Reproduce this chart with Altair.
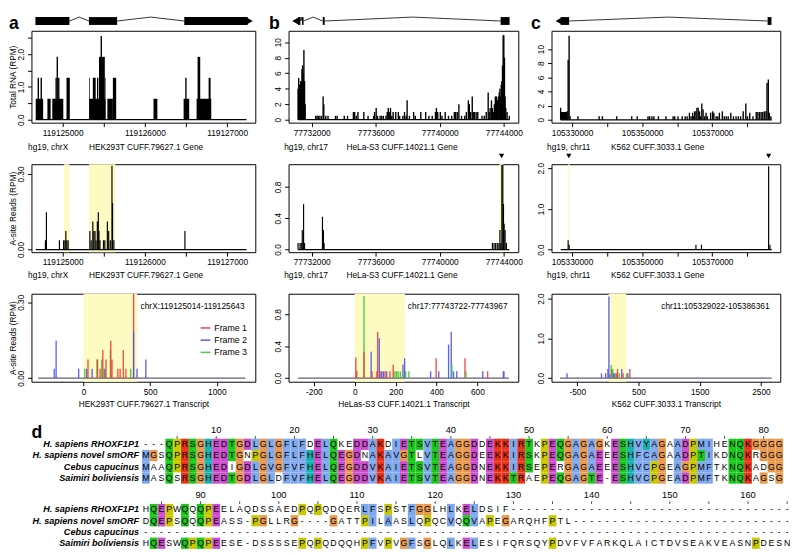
import altair as alt
import pandas as pd

FONT = "Liberation Sans"
NB = "\u00a0"

# ---------------- panel a : HEK293T CUFF.79627.1 (chrX) ----------------
A_XDOM = [119124621, 119127343]
A_XTICKS = [119125000, 119125500, 119126000, 119126500, 119127000]
A_XLABS = [119125000, 119126000, 119127000]
A_EXON_S = [119124669, 119125320, 119126479]
A_EXON_E = [119125083, 119125663, 119127250]
A_ARROW = [119127272]
A_RANGE = [119124673, 119127236]
A_TOT_YDOM = [-0.09, 2.716]
A_TOT_BLK_S = [119124673, 119124815, 119124874, 119125047, 119125323, 119125544, 119125611,
               119126105, 119126471, 119126629, 119125323, 119125367, 119125418, 119125442,
               119125513, 119126641, 119126775]
A_TOT_BLK_E = [119124763, 119124854, 119125008, 119125087, 119125521, 119125611, 119125651,
               119126152, 119126539, 119126807, 119125331, 119125402, 119125434, 119125513,
               119125521, 119126673, 119126799]
A_TOT_BLK_V = [0.64, 0.64, 0.64, 1.28, 0.64, 0.64, 1.28, 0.64, 0.64, 0.64,
               1.28, 1.28, 1.28, 1.92, 1.28, 1.92, 1.28]
A_TOT_SPK_P = [119124704, 119124740, 119124921, 119124935, 119124953, 119125470, 119126499]
A_TOT_SPK_V = [1.28, 1.28, 1.28, 1.92, 1.28, 2.56, 1.28]
A_ORF_S = [119125014, 119125320]
A_ORF_E = [119125083, 119125643]
A_AS_YDOM = [-0.0105, 0.339]
A_AS_P = [119124791, 119124803, 119124961, 119125012, 119125028, 119125039, 119125051,
          119125067, 119125331, 119125347, 119125367, 119125379, 119125394, 119125406,
          119125422, 119125434, 119125442, 119125454, 119125497, 119125513, 119125544,
          119125560, 119125580, 119125600, 119125607, 119125623, 119126487]
A_AS_V = [0.037, 0.148, 0.037, 0.037, 0.037, 0.074, 0.037, 0.037, 0.074, 0.037, 0.111,
          0.074, 0.074, 0.037, 0.111, 0.148, 0.074, 0.037, 0.037, 0.037, 0.111, 0.074,
          0.037, 0.333, 0.185, 0.037, 0.074]
A_TX_XDOM = [-390, 1289]
A_TX_XTICKS = [0, 500, 1000]
A_TX_YDOM = [-0.0143, 0.3336]
A_TX_ORF = [0, 402]
A_TX_RANGE = [-340, 1214]
A_TX_P = [-219, -205, -36, 10, 24, 34, 65, 101, 106, 125, 137, 145, 154, 161, 169, 202,
          205, 214, 258, 275, 299, 318, 354, 376, 376, 402, 468]
A_TX_V = [0.037, 0.148, 0.037, 0.037, 0.037, 0.074, 0.037, 0.074, 0.074, 0.037, 0.074,
          0.111, 0.037, 0.037, 0.074, 0.111, 0.148, 0.074, 0.037, 0.037, 0.111, 0.037,
          0.037, 0.333, 0.185, 0.037, 0.074]
A_TX_F = [2, 2, 2, 3, 2, 1, 2, 3, 1, 1, 3, 1, 3, 2, 1, 3, 1, 1, 1, 1, 1, 1, 3, 1, 2, 2, 2]
A_LOCUS = "chrX:119125014-119125643"

# ---------------- panel b : HeLa-S3 CUFF.14021.1 (chr17) ----------------
B_XDOM = [77730553, 77744904]
B_XTICKS = [77732000, 77734000, 77736000, 77738000, 77740000, 77742000, 77744000]
B_XLABS = [77732000, 77736000, 77740000, 77744000]
B_EXON_S = [77731146, 77731390, 77732690, 77743800]
B_EXON_E = [77731290, 77731490, 77732810, 77744360]
B_ARROW = [77730990]
B_RANGE = [77731146, 77744346]
B_TOT_YDOM = [-0.38, 11.48]
B_TOT_P = [77731146, 77731186, 77731227, 77731268, 77731308, 77731349, 77731390, 77731430,
           77731471, 77731512, 77731552, 77731593, 77732244, 77732325, 77732407, 77732509,
           77732610, 77732712, 77732753, 77732875, 77733017, 77733485, 77733587, 77734034,
           77734237, 77734604, 77734685, 77734787, 77734888, 77735254, 77735519, 77735865,
           77735926, 77736027, 77736109, 77736271, 77736373, 77736475, 77736638, 77736719,
           77736780, 77736841, 77736922, 77737004, 77737085, 77737248, 77737410, 77737492,
           77737695, 77737797, 77737899, 77737960, 77738102, 77738366, 77738468, 77738814,
           77739119, 77739322, 77739526, 77739729, 77739790, 77739872, 77740034, 77740136,
           77740339, 77740543, 77740746, 77740909, 77740990, 77741092, 77741194, 77741356,
           77741560, 77741661, 77741784, 77741845, 77741926, 77742028, 77742089, 77742170,
           77742272, 77742373, 77742638, 77742780, 77742902, 77743024, 77743085, 77743146,
           77743227, 77743288, 77743349, 77743410, 77743471, 77743532, 77743593, 77743654,
           77743715, 77743756, 77743797, 77743837, 77743878, 77743919, 77743959, 77744000,
           77744041, 77744081, 77744122, 77744203, 77744346]
B_TOT_V = [4.0, 5.4, 4.5, 3.5, 5.0, 4.8, 6.5, 7.0, 6.0, 9.0, 5.0, 2.0, 0.5, 0.5, 0.5, 0.5,
           0.5, 3.0, 2.0, 0.5, 0.5, 0.5, 0.5, 0.5, 0.5, 1.0, 1.0, 0.5, 1.0, 1.0, 0.5, 0.5,
           1.0, 1.5, 0.5, 0.5, 0.5, 0.5, 0.5, 1.0, 1.5, 1.0, 1.5, 0.5, 1.0, 1.0, 1.0, 0.5,
           0.5, 1.0, 0.5, 2.5, 0.5, 1.0, 0.5, 1.0, 1.0, 0.5, 0.5, 1.0, 1.5, 1.0, 1.0, 0.5,
           1.0, 0.5, 0.5, 1.0, 1.0, 1.0, 2.0, 0.5, 0.5, 1.0, 2.5, 2.0, 1.0, 3.0, 1.0, 1.0,
           1.0, 1.0, 0.5, 0.5, 1.0, 3.5, 1.0, 1.5, 2.5, 1.5, 1.0, 2.0, 3.0, 3.0, 2.5, 3.0,
           3.5, 4.0, 3.0, 4.5, 5.0, 7.0, 10.9, 10.9, 8.0, 3.0, 1.5, 1.0, 0.5]
B_ORF_S = [77743722]
B_ORF_E = [77743967]
B_MARK = [77743860]
B_AS_YDOM = [-0.034, 1.091]
B_AS_P = [77731146, 77731268, 77731349, 77731410, 77731491, 77731552, 77732671, 77732732,
          77732773, 77743288, 77743390, 77743491, 77743593, 77743695, 77743756, 77743817,
          77743878, 77743939, 77743980, 77744020, 77744081, 77744163]
B_AS_V = [0.085, 0.085, 0.085, 0.25, 0.58, 0.085, 0.42, 0.25, 0.085, 0.085, 0.085, 0.085,
          0.085, 0.085, 0.25, 0.085, 1.08, 1.08, 0.58, 0.33, 0.25, 0.085]
B_TX_XDOM = [-324, 800]
B_TX_XTICKS = [-200, 0, 200, 400, 600]
B_TX_YDOM = [-0.0453, 1.058]
B_TX_ORF = [0, 245]
B_TX_RANGE = [-277, 754]
B_TX_P = [5, 10, 45, 45, 80, 84, 108, 112, 120, 124, 132, 140, 148, 156, 172, 188, 196, 204,
          212, 223, 236, 244, 249, 265, 371, 398, 411, 459, 472, 475, 483, 499, 539, 544,
          626, 650, 727, 730]
B_TX_V = [0.257, 0.085, 1.03, 0.33, 0.33, 0.085, 0.085, 0.58, 0.5, 0.085, 0.085, 0.085,
          0.085, 0.085, 0.085, 0.17, 0.085, 0.085, 0.085, 0.085, 0.17, 0.25, 0.085, 0.085,
          0.085, 0.25, 0.085, 0.42, 0.58, 0.17, 0.085, 0.085, 0.25, 0.085, 0.085, 0.085,
          0.085, 0.085]
B_TX_F = [1, 1, 3, 1, 2, 1, 1, 1, 2, 1, 2, 2, 1, 2, 1, 1, 3, 3, 3, 3, 2, 2, 3, 3, 2, 1, 2,
          2, 2, 3, 2, 2, 1, 3, 2, 1, 2, 2]
B_LOCUS = "chr17:77743722-77743967"

# ---------------- panel c : K562 CUFF.3033.1 (chr11) ----------------
C_XDOM = [105324142, 105389414]
C_XTICKS = [105330000, 105340000, 105350000, 105360000, 105370000, 105380000]
C_XLABS = [105330000, 105350000, 105370000]
C_EXON_S = [105326736, 105385800]
C_EXON_E = [105329163, 105386900]
C_ARROW = [105326250]
C_RANGE = [105326744, 105387000]
C_TOT_YDOM = [-0.41, 12.59]
C_TOT_P = [105326744, 105327023, 105327302, 105327581, 105327861, 105328140, 105328419,
           105328605, 105328884, 105329163, 105329442, 105331674, 105337721, 105338651,
           105342744, 105347023, 105348605, 105351674, 105352140, 105352791, 105353349,
           105354651, 105356791, 105358837, 105359302, 105360233, 105361442, 105362279,
           105362837, 105363488, 105363953, 105364419, 105364698, 105364977, 105365349,
           105365628, 105366000, 105366372, 105366651, 105367023, 105367395, 105367860,
           105368233, 105368605, 105369535, 105370093, 105370465, 105371116, 105371581,
           105372047, 105372884, 105373442, 105374000, 105374558, 105375302, 105376047,
           105376791, 105377442, 105378093, 105378837, 105379581, 105380047, 105380698,
           105381628, 105382558, 105383023, 105383488, 105383953, 105384419, 105384884,
           105385349, 105385628, 105386000, 105386279, 105386744]
C_TOT_V = [1.7, 1.1, 1.1, 1.1, 1.1, 1.1, 1.1, 1.2, 8.5, 11.9, 0.5, 0.5, 0.5, 0.5, 0.5, 0.5,
           0.5, 0.5, 0.5, 0.5, 0.5, 0.5, 0.5, 0.5, 0.5, 0.5, 0.5, 0.5, 0.5, 1.0, 0.5, 1.0,
           0.5, 1.2, 1.2, 1.7, 1.7, 1.2, 0.5, 2.3, 1.5, 0.5, 1.0, 0.5, 1.0, 1.2, 1.0, 0.5,
           0.5, 1.0, 1.2, 0.5, 0.5, 0.5, 1.0, 0.5, 0.5, 0.5, 0.5, 1.2, 2.3, 0.5, 1.0, 0.5,
           1.1, 1.1, 1.1, 1.1, 1.1, 1.2, 1.2, 5.2, 5.7, 1.0, 0.5]
C_ORF_S = [105328880]
C_ORF_E = [105329300]
C_MARK = [105329070, 105386100]
C_AS_YDOM = [-0.065, 2.10]
C_AS_P = [105328884, 105329163, 105365349, 105366930, 105386093, 105386465]
C_AS_V = [0.23, 0.12, 0.12, 0.12, 2.05, 0.12]
C_TX_XDOM = [-921, 2815]
C_TX_XTICKS = [-500, 0, 500, 1000, 1500, 2000, 2500]
C_TX_YDOM = [-0.091, 2.122]
C_TX_ORF = [15, 300]
C_TX_RANGE = [-782, 2676]
C_TX_P = [-668, -105, -37, 0, 16, 37, 53, 68, 79, 95, 116, 142, 158, 184, 226, 247, 305,
          326, 358]
C_TX_V = [0.12, 0.12, 0.12, 0.23, 2.05, 0.1, 0.33, 0.23, 0.23, 0.12, 0.12, 0.12, 0.23,
          0.12, 0.23, 0.12, 0.12, 0.12, 0.23]
C_TX_F = [2, 2, 2, 2, 2, 2, 3, 1, 3, 2, 2, 1, 1, 3, 2, 1, 3, 2, 1]
C_LOCUS = "chr11:105329022-105386361"

# ---------------- panel d : alignment ----------------
ALN_NAMES = ["H. sapiens RHOXF1P1", "H. sapiens novel smORF", "Cebus capucinus",
             "Saimiri boliviensis"]
ALN_BLOCK1 = [
    "---QPRSGHEDTGDLGLGFLFDELQKEDDAKDIETSVTEAGGDDEKKIRTKPEQGAGAGKESHVYAGAADPMIHENQKGGGG",
    "MGSQPRSGHEDTGNPGLGFLFHELQEGDNAKAVGTLVTEAGGDEEKKIRSKPEQGAGAEEESHFCAGAADPTIKDNQKRGGG",
    "MAAQPRSGHEDIGDLGVGFVFHELQEGDDVKAIETSVTEAGGDNEKKIRSEPERGAGAEEESHVCPGEAGPMFTKNQKADGG",
    "MASQSRSGHEDTGDLGLDFVFHELQEGDDVKAIETSVTEAGGDNEKKTRAEPEQGAGTE-ESHVCPGEADPMFTKNQKAGSG",
]
ALN_BLOCK2 = [
    "HQEPWQQQPEELAQDSSAEDPQPQDQERLFSPSTFGGLHLKELDSIF" + "-" * 36,
    "DQEPSQQQPEASS-PGLLRG----GATTPILAASLQPQCVQQVAPEGARQHFPTL" + "-" * 28,
    "-" * 83,
    "HQESWQPQPEESE-DSSSSEPQPQDQQHPFVPVGFSGLQLKELESIFQRSQYPDVFVFARKQLAICTDVSEAKVEASNPDESN",
]
ALN_BLOCK_START = [1, 83]

FRAME_NAMES = ["Frame 1", "Frame 2", "Frame 3"]
FRAME_COLS = ["#f23b3b", "#4f55ea", "#3cc43c"]
YELLOW = "#fdfbc2"
CLX = {"blue": "#80a8ec", "red": "#e8341c", "green": "#1ac81a", "pink": "#e88080",
       "magenta": "#cc4dcc", "orange": "#e8994d", "yellow": "#c8c800", "cyan": "#1ab0b0"}

W_A, W_B, W_C = 229, 235, 234
H1, H2 = 94, 90
LET_DX = -23


def lab_expr(labs, fmt):
    arr = "[" + ",".join(repr(v) for v in labs) + "]"
    body = "replace(format(datum.value, '%s'), '\u2212', '-')" % fmt
    return "indexof(%s, datum.value) >= 0 ? %s : ''" % (arr, body)


def xaxis(vals, labs, title, tx, ty, align):
    return alt.Axis(values=vals, labelExpr=lab_expr(labs, "d"), title=title, titleX=tx,
                    titleY=ty, titleAlign=align, titleBaseline="alphabetic", tickSize=4,
                    labelPadding=2, labelFlush=False, labelOverlap=False, domain=False,
                    grid=False)


def yaxis(vals, labs, fmt, title=None, ty=0):
    kw = dict(values=vals, labelExpr=lab_expr(labs, fmt), labelAngle=270,
              labelAlign="center", labelBaseline="alphabetic", labelPadding=4.5, tickSize=4,
              domain=False, grid=False, labelOverlap=False, labelFlush=False)
    if title:
        kw.update(title=title, titleAngle=270, titleX=-16.2, titleY=ty, titleAlign="center",
                  titleBaseline="alphabetic")
    else:
        kw["title"] = None
    return alt.Axis(**kw)


def xs_(dom):
    return alt.Scale(domain=dom, nice=False, zero=False)


def gene_layers(xs, ex_s, ex_e, arrow, shape):
    gy = alt.Scale(domain=[-1, 1], range=[-2, -18])
    ex = pd.DataFrame({"s": ex_s, "e": ex_e})
    rows = []
    for i in range(len(ex_s) - 1):
        a, b = ex_e[i], ex_s[i + 1]
        for k, (xx, yy) in enumerate([(a, 0.0), ((a + b) / 2, 0.5), (b, 0.0)]):
            rows.append({"x": xx, "y": yy, "g": i, "o": k})
    intr = pd.DataFrame(rows)
    lines = alt.Chart(intr).mark_line(color="black", strokeWidth=0.8).encode(
        x=alt.X("x:Q", scale=xs), y=alt.Y("y:Q", scale=gy, axis=None),
        detail="g:N", order="o:Q")
    boxes = alt.Chart(ex).mark_rect(color="black").encode(
        x=alt.X("s:Q", scale=xs), x2="e:Q",
        y=alt.YDatum(-0.5, scale=gy, axis=None), y2=alt.Y2Datum(0.5))
    arr = alt.Chart(pd.DataFrame({"x": arrow})).mark_point(
        shape=shape, filled=True, color="black", size=60, opacity=1).encode(
        x=alt.X("x:Q", scale=xs), y=alt.YDatum(0, scale=gy, axis=None))
    return [lines, boxes, arr]


def letter_layer(letter, dx, dy):
    return alt.Chart(pd.DataFrame({"t": [letter]})).mark_text(
        align="left", baseline="alphabetic", fontSize=18, fontWeight="bold",
        color="black").encode(text="t:N", x=alt.value(dx), y=alt.value(dy))


def total_panel(xdom, w, ydom, xt, xl, yt, yl, yfmt, title, tx, rng, p, v, gene, letter,
                blk=None, ytitle=None):
    xs, ys = xs_(xdom), alt.Scale(domain=ydom, nice=False, zero=False)
    spk = alt.Chart(pd.DataFrame({"p": p, "v": v})).mark_rule(
        color="black", strokeWidth=1.4).encode(
        x=alt.X("p:Q", scale=xs, axis=xaxis(xt, xl, title, tx, 27.7, "left")),
        y=alt.Y("v:Q", scale=ys, axis=yaxis(yt, yl, yfmt, ytitle, H1 / 2)),
        y2=alt.Y2Datum(0))
    layers = [spk]
    base = alt.Chart(pd.DataFrame({"s": [rng[0]], "e": [rng[1]]})).mark_rule(
        color="black", strokeWidth=1.3).encode(
        x=alt.X("s:Q", scale=xs), x2="e:Q", y=alt.YDatum(0, scale=ys, axis=None))
    layers.append(base)
    if blk is not None:
        layers.append(alt.Chart(pd.DataFrame({"s": blk[0], "e": blk[1], "v": blk[2]})).mark_rect(
            color="black").encode(x=alt.X("s:Q", scale=xs), x2="e:Q",
                                  y=alt.Y("v:Q", scale=ys, axis=None), y2=alt.Y2Datum(0)))
    layers += gene_layers(xs, *gene)
    layers.append(letter_layer(letter[0], letter[1], -1.5))
    return alt.layer(*layers).resolve_scale(y="independent").properties(
        width=w, height=H1, view=alt.ViewBackground(stroke="black", strokeWidth=1))


def asite_panel(xdom, w, ydom, xt, xl, yt, yl, yfmt, title, tx, rng, p, v, orf_s, orf_e,
                marks=None, ytitle=None):
    xs, ys = xs_(xdom), alt.Scale(domain=ydom, nice=False, zero=False)
    spk = alt.Chart(pd.DataFrame({"p": p, "v": v})).mark_rule(
        color="black", strokeWidth=1.2).encode(
        x=alt.X("p:Q", scale=xs, axis=xaxis(xt, xl, title, tx, 26, "left")),
        y=alt.Y("v:Q", scale=ys, axis=yaxis(yt, yl, yfmt, ytitle, H2 / 2)),
        y2=alt.Y2Datum(0))
    orf = alt.Chart(pd.DataFrame({"s": orf_s, "e": orf_e})).mark_rect(color=YELLOW).encode(
        x=alt.X("s:Q", scale=xs), x2="e:Q",
        y=alt.YDatum(ydom[0], scale=ys), y2=alt.Y2Datum(ydom[1]))
    base = alt.Chart(pd.DataFrame({"s": [rng[0]], "e": [rng[1]]})).mark_rule(
        color="black", strokeWidth=1.3).encode(
        x=alt.X("s:Q", scale=xs), x2="e:Q", y=alt.YDatum(0, scale=ys))
    layers = [orf, base, spk]
    if marks:
        layers.append(alt.Chart(pd.DataFrame({"p": marks})).mark_point(
            shape="triangle-down", filled=True, color="black", size=28, opacity=1).encode(
            x=alt.X("p:Q", scale=xs), y=alt.value(-8.5)))
    return alt.layer(*layers).properties(
        width=w, height=H2, view=alt.ViewBackground(stroke="black", strokeWidth=1))


def tx_panel(xdom, w, ydom, xt, yt, yl, yfmt, title, rng, orf, p, v, f, locus,
             legend=False, ytitle=None):
    xs, ys = xs_(xdom), alt.Scale(domain=ydom, nice=False, zero=False)
    orf_c = alt.Chart(pd.DataFrame({"s": [orf[0]], "e": [orf[1]]})).mark_rect(
        color=YELLOW).encode(
        x=alt.X("s:Q", scale=xs), x2="e:Q",
        y=alt.YDatum(ydom[0], scale=ys), y2=alt.Y2Datum(ydom[1]))
    base = alt.Chart(pd.DataFrame({"s": [rng[0]], "e": [rng[1]]})).mark_rule(
        color="#6a5d78", strokeWidth=1.3).encode(
        x=alt.X("s:Q", scale=xs), x2="e:Q", y=alt.YDatum(0, scale=ys))
    df = pd.DataFrame({"p": p, "v": v, "f": [FRAME_NAMES[k - 1] for k in f]})
    if legend:
        leg = alt.Legend(orient="none", legendX=172, legendY=29, title=None,
                         symbolType="stroke", symbolSize=100, symbolStrokeWidth=1.6,
                         labelFontSize=9, labelOffset=3, rowPadding=1.5, padding=0)
    else:
        leg = None
    spk = alt.Chart(df).mark_rule(strokeWidth=1.4, opacity=0.9).encode(
        x=alt.X("p:Q", scale=xs, axis=alt.Axis(
            values=xt, labelExpr=lab_expr(xt, "d"), title=title, titleX=w / 2, titleY=25.8,
            titleAlign="center", titleBaseline="alphabetic", tickSize=4, labelPadding=2,
            labelFlush=False, labelOverlap=False, domain=False, grid=False)),
        y=alt.Y("v:Q", scale=ys, axis=yaxis(yt, yl, yfmt, ytitle, H2 / 2)),
        y2=alt.Y2Datum(0),
        color=alt.Color("f:N", scale=alt.Scale(domain=FRAME_NAMES, range=FRAME_COLS),
                        legend=leg))
    loc = alt.Chart(pd.DataFrame({"t": [locus]})).mark_text(
        align="right", baseline="middle", fontSize=8.5, color="black").encode(
        text="t:N", x=alt.value(w - 11), y=alt.value(13))
    return alt.layer(orf_c, base, spk, loc).properties(
        width=w, height=H2, view=alt.ViewBackground(stroke="black", strokeWidth=1))


def clustal_colours(seqs):
    n = len(seqs)
    groups = {"%": ("WLVIMAFCYHP", 60), "#": ("WLVIMAFCYHP", 80), "-": ("ED", 50),
              "+": ("KR", 60), "g": ("G", 50), "n": ("N", 50), "q": ("QE", 50),
              "p": ("P", 50), "t": ("TS", 50)}
    for aa in "ACDEFGHIKLMNPQRSTVWY":
        groups[aa] = (aa, 85)
    hyd = "%#ACFHILMVWYPp"
    rules = {"G": [("orange", None)], "P": [("yellow", None)], "T": [("green", "tST%#")],
             "S": [("green", "tST#")], "N": [("green", "nND")], "Q": [("green", "qQE+KR")],
             "E": [("magenta", "-DEqQ")], "D": [("magenta", "-DEnN")],
             "K": [("red", "+KRQ")], "R": [("red", "+KRQ")], "H": [("cyan", hyd)],
             "Y": [("cyan", hyd)], "A": [("blue", hyd + "TSG")],
             "C": [("pink", "C"), ("blue", "%#AFHILMVWYSPp")]}
    for aa in "WLVIMF":
        rules[aa] = [("blue", hyd)]
    out = [[] for _ in seqs]
    for j in range(len(seqs[0])):
        col = [s[j] for s in seqs]
        present = set()
        for sym, (letters, thr) in groups.items():
            cnt = sum(1 for c in col if c in letters)
            if cnt * 100.0 / n > thr:
                present.add(sym)
        for i, c in enumerate(col):
            colour = "none"
            for cl, cond in rules.get(c, []):
                if cond is None or any(ch in present for ch in cond):
                    colour = cl
                    break
            out[i].append(colour)
    return out


def alignment_panel():
    XMIN, XMAX = -13.625, 83.5
    W = (XMAX - XMIN) * 8
    YD = [-0.5, 10.7]
    xs = alt.Scale(domain=[XMIN, XMAX], nice=False, zero=False)
    ys = alt.Scale(domain=YD, nice=False, zero=False, reverse=True)
    cells, names, nums, ticks = [], [], [], []
    for b, block in enumerate([ALN_BLOCK1, ALN_BLOCK2]):
        cols = clustal_colours(block)
        start = ALN_BLOCK_START[b]
        for r, seq in enumerate(block):
            y = 1.35 + r + 5.8 * b
            names.append({"x": 0.5, "y": y, "t": ALN_NAMES[r]})
            for j, ch in enumerate(seq):
                cells.append({"c": j + 1, "c0": j + 0.5, "c1": j + 1.5, "y": y,
                              "y0": y - 0.5, "y1": y + 0.5, "res": ch, "cls": cols[r][j]})
        for j in range(len(block[0])):
            pos = start + j
            if pos % 10 == 0:
                nums.append({"c": j + 1, "y": 0.1 + 5.8 * b, "t": str(pos)})
            if pos % 5 == 0:
                ticks.append({"c": j + 1, "y0": 0.62 + 5.8 * b, "y1": 0.85 + 5.8 * b})
    cdf = pd.DataFrame(cells)
    cls_dom = list(CLX.keys())
    rect = alt.Chart(cdf[cdf["cls"] != "none"]).mark_rect().encode(
        x=alt.X("c0:Q", scale=xs, axis=None), x2="c1:Q",
        y=alt.Y("y0:Q", scale=ys, axis=None), y2="y1:Q",
        color=alt.Color("cls:N", scale=alt.Scale(domain=cls_dom, range=[CLX[k] for k in cls_dom]),
                        legend=None))
    txt = alt.Chart(cdf).mark_text(fontSize=9, color="black", baseline="middle").encode(
        x=alt.X("c:Q", scale=xs, axis=None), y=alt.Y("y:Q", scale=ys, axis=None), text="res:N")
    nm = alt.Chart(pd.DataFrame(names)).mark_text(
        fontSize=9.3, fontWeight="bold", fontStyle="italic", align="right", baseline="middle",
        dx=-3, color="black").encode(
        x=alt.X("x:Q", scale=xs, axis=None), y=alt.Y("y:Q", scale=ys, axis=None), text="t:N")
    nu = alt.Chart(pd.DataFrame(nums)).mark_text(
        fontSize=9.5, baseline="middle", color="black").encode(
        x=alt.X("c:Q", scale=xs, axis=None), y=alt.Y("y:Q", scale=ys, axis=None), text="t:N")
    tk = alt.Chart(pd.DataFrame(ticks)).mark_rule(color="#444444", strokeWidth=1).encode(
        x=alt.X("c:Q", scale=xs, axis=None), y=alt.Y("y0:Q", scale=ys, axis=None), y2="y1:Q")
    let = letter_layer("d", 0, 15)
    return alt.layer(rect, txt, nm, nu, tk, let).properties(
        width=W, height=(YD[1] - YD[0]) * 11.5, view=alt.ViewBackground(stroke="transparent"))


A_TITLE = "hg19, chrX" + NB * 9 + "HEK293T CUFF.79627.1 Gene"
B_TITLE = "hg19, chr17" + NB * 8 + "HeLa-S3 CUFF.14021.1 Gene"
C_TITLE = "hg19, chr11" + NB * 9 + "K562 CUFF.3033.1 Gene"

a1 = total_panel(A_XDOM, W_A, A_TOT_YDOM, A_XTICKS, A_XLABS, [0, 0.5, 1, 1.5, 2, 2.5],
                 [0, 1, 2], ".1f", A_TITLE, -4, A_RANGE, A_TOT_SPK_P, A_TOT_SPK_V,
                 (A_EXON_S, A_EXON_E, A_ARROW, "triangle-right"), ("a", LET_DX),
                 blk=(A_TOT_BLK_S, A_TOT_BLK_E, A_TOT_BLK_V), ytitle="Total RNA (RPM)")
b1 = total_panel(B_XDOM, W_B, B_TOT_YDOM, B_XTICKS, B_XLABS, [0, 2, 4, 6, 8, 10],
                 [0, 2, 4, 6, 8, 10], "d", B_TITLE, -5, B_RANGE, B_TOT_P, B_TOT_V,
                 (B_EXON_S, B_EXON_E, B_ARROW, "triangle-left"), ("b", -20))
c1 = total_panel(C_XDOM, W_C, C_TOT_YDOM, C_XTICKS, C_XLABS, [0, 2, 4, 6, 8, 10],
                 [0, 2, 4, 6, 8, 10], "d", C_TITLE, -5, C_RANGE, C_TOT_P, C_TOT_V,
                 (C_EXON_S, C_EXON_E, C_ARROW, "triangle-left"), ("c", -21))
a2 = asite_panel(A_XDOM, W_A, A_AS_YDOM, A_XTICKS, A_XLABS,
                 [0.0, 0.05, 0.1, 0.15, 0.2, 0.25, 0.3], [0.0, 0.1, 0.2, 0.3], ".2f",
                 A_TITLE, -4, A_RANGE, A_AS_P, A_AS_V, A_ORF_S, A_ORF_E,
                 ytitle="A-site Reads (RPM)")
b2 = asite_panel(B_XDOM, W_B, B_AS_YDOM, B_XTICKS, B_XLABS, [0.0, 0.2, 0.4, 0.6, 0.8, 1.0],
                 [0.0, 0.4, 0.8], ".1f", B_TITLE, -5, B_RANGE, B_AS_P, B_AS_V, B_ORF_S,
                 B_ORF_E, marks=B_MARK)
c2 = asite_panel(C_XDOM, W_C, C_AS_YDOM, C_XTICKS, C_XLABS, [0.0, 0.5, 1.0, 1.5, 2.0],
                 [0.0, 0.5, 1.0, 1.5, 2.0], ".1f", C_TITLE, -5, C_RANGE, C_AS_P, C_AS_V,
                 C_ORF_S, C_ORF_E, marks=C_MARK)
a3 = tx_panel(A_TX_XDOM, W_A, A_TX_YDOM, A_TX_XTICKS, [0.0, 0.05, 0.1, 0.15, 0.2, 0.25, 0.3],
              [0.0, 0.1, 0.2, 0.3], ".2f", "HEK293T CUFF.79627.1 Transcript", A_TX_RANGE,
              A_TX_ORF, A_TX_P, A_TX_V, A_TX_F, A_LOCUS, legend=True,
              ytitle="A-site Reads (RPM)")
b3 = tx_panel(B_TX_XDOM, W_B, B_TX_YDOM, B_TX_XTICKS, [0.0, 0.2, 0.4, 0.6, 0.8, 1.0],
              [0.0, 0.4, 0.8], ".1f", "HeLas-S3 CUFF.14021.1 Transcript", B_TX_RANGE,
              B_TX_ORF, B_TX_P, B_TX_V, B_TX_F, B_LOCUS)
c3 = tx_panel(C_TX_XDOM, W_C, C_TX_YDOM, C_TX_XTICKS, [0.0, 0.5, 1.0, 1.5, 2.0],
              [0.0, 0.5, 1.0, 1.5, 2.0], ".1f", "K562 CUFF.3033.1 Transcript", C_TX_RANGE,
              C_TX_ORF, C_TX_P, C_TX_V, C_TX_F, C_LOCUS)

grid = alt.concat(a1, b1, c1, a2, b2, c2, a3, b3, c3, columns=3,
                  spacing={"row": 42.5, "column": 34}, bounds="flush").resolve_scale(
    x="independent", y="independent", color="independent")

chart = alt.vconcat(grid, alignment_panel(), spacing=13.75).resolve_scale(
    x="independent", y="independent", color="independent").properties(
    padding={"left": 0, "top": 0, "right": 0, "bottom": 0})

chart = chart.configure(font=FONT).configure_view(stroke="black", strokeWidth=1).configure_axis(
    labelFont=FONT, titleFont=FONT, labelFontSize=8.5, titleFontSize=8.5, labelColor="black",
    titleColor="black", tickColor="black", tickWidth=1, titleFontWeight="normal"
).configure_legend(labelFont=FONT, labelColor="black")

chart.save("out.html", embed_options={"renderer": "svg", "actions": False})
